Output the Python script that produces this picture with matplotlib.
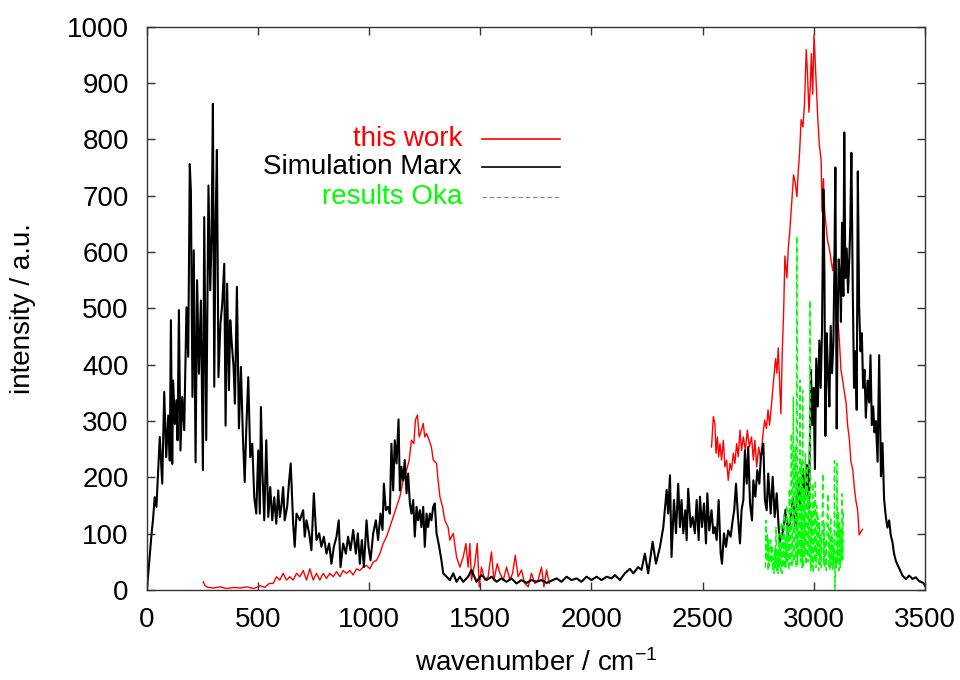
import matplotlib
matplotlib.use('Agg')
import matplotlib.pyplot as plt
import numpy as np

plt.rcParams['font.family'] = ['Liberation Sans', 'DejaVu Sans']
plt.rcParams['mathtext.fontset'] = 'custom'
plt.rcParams['mathtext.rm'] = 'Liberation Sans'
plt.rcParams['mathtext.default'] = 'regular'

# Simulation Marx (black)
marx_x = [0, 21, 28, 35, 43, 58, 69, 78, 87, 96, 103, 108, 114, 118, 126, 133, 138, 144, 151, 159,
          168, 178, 186, 193, 198, 205, 211, 219, 226, 234, 243, 252, 258, 267, 277, 285, 291, 297,
          303, 309, 315, 322, 331, 339, 348, 354, 361, 369, 375, 382, 390, 396, 405, 414, 423, 432,
          440, 447, 456, 465, 474, 483, 492, 501, 508, 513, 520, 528, 537, 546, 555, 564, 573, 582,
          591, 598, 605, 613, 620, 631, 640, 647, 658, 665, 673, 688, 703, 710, 718, 730, 740, 751,
          763, 775, 785, 796, 808, 820, 830, 841, 853, 863, 871, 883, 895, 905, 916, 928, 940, 949,
          958, 967, 976, 988, 997, 1006, 1018, 1030, 1040, 1051, 1060, 1066, 1075, 1085, 1093, 1100,
          1108, 1115, 1123, 1132, 1138, 1145, 1153, 1160, 1168, 1175, 1183, 1190, 1198, 1205, 1213,
          1220, 1228, 1235, 1243, 1250, 1258, 1265, 1273, 1280, 1288, 1295, 1303, 1315, 1325, 1333,
          1348, 1363, 1378, 1393, 1408, 1423, 1445, 1460, 1483, 1505, 1528, 1550, 1573, 1595, 1618,
          1640, 1663, 1685, 1708, 1730, 1753, 1775, 1798, 1820, 1843, 1865, 1888, 1910, 1933, 1955,
          1978, 2000, 2023, 2045, 2068, 2090, 2105, 2128, 2150, 2173, 2188, 2210, 2225, 2240, 2255,
          2275, 2290, 2308, 2323, 2338, 2345, 2353, 2360, 2371, 2380, 2390, 2398, 2405, 2413, 2422,
          2428, 2435, 2446, 2455, 2465, 2473, 2482, 2488, 2497, 2506, 2515, 2521, 2530, 2540, 2548,
          2555, 2563, 2572, 2581, 2587, 2596, 2605, 2615, 2626, 2635, 2642, 2650, 2659, 2668, 2675,
          2683, 2690, 2698, 2705, 2713, 2722, 2728, 2737, 2746, 2755, 2762, 2773, 2780, 2788, 2795,
          2806, 2815, 2824, 2833, 2846, 2861, 2873, 2883, 2894, 2906, 2918, 2930, 2939, 2951, 2960,
          2969, 2978, 2987, 2993, 2999, 3005, 3011, 3018, 3025, 3031, 3037, 3043, 3048, 3052, 3058,
          3064, 3070, 3076, 3082, 3088, 3092, 3097, 3103, 3107, 3112, 3118, 3122, 3127, 3133, 3137,
          3142, 3148, 3154, 3160, 3164, 3169, 3175, 3181, 3187, 3193, 3198, 3204, 3210, 3216, 3222,
          3228, 3234, 3242, 3249, 3255, 3261, 3267, 3273, 3279, 3287, 3294, 3302, 3309, 3316, 3324,
          3331, 3339, 3346, 3354, 3361, 3369, 3384, 3399, 3414, 3429, 3444, 3459, 3474, 3493, 3500]
marx_y = [0, 100, 127, 165, 148, 272, 189, 352, 236, 310, 230, 479, 224, 372, 295, 337, 266, 497, 248, 343,
          284, 502, 414, 756, 707, 343, 603, 227, 550, 384, 514, 213, 662, 266, 718, 532, 627, 863,
          361, 650, 781, 378, 473, 508, 579, 292, 544, 355, 479, 437, 396, 331, 538, 287, 396, 272,
          192, 284, 378, 236, 260, 165, 136, 248, 136, 325, 207, 124, 266, 130, 183, 124, 165, 118,
          177, 130, 148, 183, 124, 148, 195, 225, 118, 77, 136, 124, 142, 95, 124, 101, 71, 172,
          89, 101, 77, 95, 65, 83, 47, 77, 95, 124, 41, 83, 65, 95, 71, 107, 65, 101,
          47, 89, 41, 124, 77, 53, 101, 124, 89, 136, 107, 189, 142, 148, 136, 260,
          177, 266, 225, 303, 177, 219, 195, 231, 172, 207, 154, 136, 160, 95, 148,
          124, 142, 112, 148, 77, 136, 112, 136, 124, 148, 154, 101, 77, 53, 30,
          24, 18, 30, 15, 24, 15, 24, 36, 15, 27, 18, 24, 15, 21, 15,
          21, 12, 18, 13, 18, 15, 18, 13, 17, 21, 15, 24, 18, 21, 15,
          24, 18, 24, 18, 24, 21, 27, 18, 30, 38, 30, 41, 36, 65, 30,
          86, 47, 77, 112, 178, 136, 204, 59, 160, 101, 189, 112, 160, 101, 142,
          89, 180, 112, 130, 101, 160, 89, 166, 112, 154, 83, 172, 106, 142, 101,
          112, 89, 160, 65, 47, 101, 77, 106, 95, 124, 142, 189, 130, 83, 142,
          160, 248, 189, 254, 154, 124, 195, 166, 213, 189, 237, 260, 160, 142, 207,
          136, 201, 130, 172, 85, 104, 143, 98, 124, 163, 111, 196, 143, 215, 163,
          222, 143, 391, 293, 359, 215, 411, 326, 443, 359, 463, 711, 554, 274, 456,
          385, 326, 469, 385, 437, 554, 750, 287, 476, 587, 554, 476, 652, 522, 812,
          554, 606, 528, 593, 646, 776, 541, 359, 424, 320, 743, 502, 424, 456, 359,
          391, 306, 372, 333, 417, 293, 326, 280, 300, 228, 417, 202, 261, 163, 130,
          111, 124, 98, 85, 65, 52, 39, 26, 20, 26, 20, 23, 16, 13, 8]

# this work (red), two measured ranges
work_x1 = [253, 262, 275, 300, 330, 360, 390, 420, 450, 480, 510, 530, 550, 568, 583, 598, 613, 628, 643,
           658, 673, 688, 703, 718, 733, 748, 763, 778, 793, 808, 823, 838, 853, 868, 883, 898, 913,
           928, 943, 958, 973, 988, 1003, 1018, 1033, 1048, 1063, 1078, 1093, 1108, 1123, 1138, 1153,
           1168, 1180, 1190, 1201, 1208, 1217, 1225, 1235, 1243, 1250, 1258, 1270, 1280, 1288, 1303,
           1310, 1318, 1330, 1340, 1355, 1363, 1378, 1393, 1408, 1423, 1435, 1445, 1453, 1460, 1475,
           1486, 1495, 1505, 1520, 1535, 1550, 1561, 1576, 1588, 1603, 1618, 1633, 1645, 1657, 1670,
           1685, 1700, 1715, 1730, 1745, 1760, 1775, 1786, 1798, 1810]
work_y1 = [15, 8, 5, 4, 6, 3, 5, 4, 6, 3, 8, 5, 12, 12, 24, 18, 30, 18, 24,
           18, 30, 24, 35, 18, 38, 18, 30, 18, 30, 21, 30, 24, 33, 24, 35, 30, 35,
           27, 38, 35, 41, 44, 38, 50, 53, 65, 83, 95, 112, 130, 148, 166, 195,
           213, 231, 266, 260, 302, 311, 272, 284, 296, 272, 278, 266, 254, 231, 225,
           195, 166, 148, 124, 112, 89, 101, 59, 41, 59, 83, 41, 83, 18, 47,
           83, 6, 41, 18, 24, 68, 18, 47, 30, 18, 41, 18, 30, 62, 24,
           36, 12, 6, 30, 12, 18, 41, 6, 36, 12]
work_x2 = [2540, 2548, 2555, 2560, 2566, 2572, 2578, 2585, 2593, 2600, 2608, 2615, 2623, 2630, 2638,
           2645, 2653, 2660, 2668, 2675, 2683, 2692, 2701, 2710, 2720, 2728, 2735, 2743, 2752, 2761,
           2770, 2779, 2787, 2794, 2801, 2809, 2816, 2828, 2834, 2840, 2846, 2852, 2858, 2864, 2870,
           2879, 2885, 2891, 2898, 2909, 2916, 2924, 2930, 2936, 2943, 2951, 2958, 2966, 2972, 2978,
           2984, 2989, 2995, 3001, 3007, 3013, 3019, 3025, 3033, 3037, 3043, 3049, 3055, 3062, 3070,
           3077, 3085, 3092, 3100, 3107, 3115, 3122, 3130, 3137, 3145, 3152, 3160, 3167, 3175, 3182,
           3190, 3197, 3204, 3212, 3219]
work_y2 = [254, 308, 296, 243, 272, 237, 260, 231, 266, 219, 231, 195, 225, 213, 243,
           225, 260, 237, 284, 248, 272, 248, 284, 254, 272, 231, 266, 219, 254, 231,
           272, 302, 287, 320, 293, 326, 359, 411, 385, 430, 372, 313, 424, 489, 593,
           554, 606, 632, 672, 737, 724, 698, 743, 776, 835, 822, 861, 959, 913, 848,
           893, 952, 880, 985, 932, 880, 828, 789, 763, 672, 730, 672, 646, 620, 606,
           587, 567, 593, 541, 489, 443, 391, 372, 352, 333, 293, 267, 228, 215, 183,
           157, 143, 98, 104, 108]

# results Oka (green)
oka_x = [2782, 2785, 2788, 2791, 2794, 2797, 2800, 2803, 2806, 2809, 2812, 2815, 2818, 2821, 2824,
         2827, 2830, 2833, 2836, 2839, 2842, 2845, 2848, 2851, 2854, 2857, 2860, 2863, 2866, 2869,
         2872, 2875, 2878, 2881, 2884, 2887, 2890, 2893, 2896, 2899, 2902, 2905, 2908, 2911, 2914,
         2917, 2920, 2924, 2927, 2930, 2934, 2938, 2941, 2944, 2947, 2950, 2953, 2956, 2959, 2962,
         2965, 2968, 2971, 2974, 2977, 2980, 2983, 2986, 2989, 2992, 2995, 2998, 3001, 3004, 3007,
         3010, 3013, 3016, 3019, 3022, 3025, 3028, 3031, 3034, 3038, 3041, 3044, 3047, 3050, 3053,
         3056, 3060, 3064, 3067, 3070, 3073, 3076, 3079, 3082, 3085, 3088, 3091, 3093, 3095, 3098,
         3101, 3104, 3107, 3110, 3113, 3116, 3119, 3122, 3125, 3127, 3130, 3133]
oka_y = [40, 124, 53, 100, 35, 90, 41, 60, 89, 47, 80, 35, 60, 30, 75,
         40, 112, 35, 70, 30, 100, 41, 80, 35, 120, 30, 95, 41, 136, 38,
         90, 41, 150, 50, 112, 35, 180, 45, 136, 278, 41, 200, 343, 50, 170,
         254, 40, 628, 45, 210, 60, 373, 50, 230, 40, 355, 40, 180, 60, 242,
         45, 150, 220, 50, 175, 60, 514, 35, 140, 40, 190, 30, 160, 50, 195,
         40, 150, 60, 130, 35, 120, 45, 100, 40, 140, 207, 45, 120, 40, 90,
         35, 130, 171, 40, 110, 35, 130, 45, 100, 35, 80, 45, 230, 0, 60,
         40, 225, 50, 140, 35, 120, 40, 110, 50, 171, 55, 140]

fig = plt.figure(figsize=(9.6, 6.8), dpi=100)
ax = fig.add_axes([0.153, 0.132, 0.8105, 0.829])

ax.plot(work_x1, work_y1, color='#ff0000', lw=1.0)
ax.plot(work_x2, work_y2, color='#ff0000', lw=1.0)
ax.plot(marx_x, marx_y, color='black', lw=1.5)
ax.plot(oka_x, oka_y, color='#00ff00', lw=1.0, dashes=(4, 2.5))

ax.set_xlim(0, 3500)
ax.set_ylim(0, 1000)
ax.set_xticks(np.arange(0, 3501, 500))
ax.set_yticks(np.arange(0, 1001, 100))
ax.tick_params(direction='in', top=True, right=True, length=6, width=1,
               labelsize=20, colors='#333333', labelcolor='black')
ax.tick_params(axis='y', pad=13)
ax.tick_params(axis='x', pad=12)
for s in ax.spines.values():
    s.set_color('#333333')
    s.set_linewidth(1)

ax.set_xlabel('wavenumber / cm$^{-1}$', fontsize=20, labelpad=12)
ax.set_ylabel('intensity / a.u.', fontsize=20, labelpad=22)

# key, drawn by hand: text right-aligned, sample on the right
key = [('this work', '#ff0000', '-'), ('Simulation Marx', 'black', '-'),
       ('results Oka', '#00ff00', '--')]
rows = [0.801, 0.750, 0.697]
for (lab, col, ls), yy in zip(key, rows):
    ax.text(0.405, yy, lab, color=col, fontsize=20, ha='right', va='center',
            transform=ax.transAxes)
    if ls == '-':
        ax.plot([0.431, 0.531], [yy, yy], color=col, lw=1.2, transform=ax.transAxes)
    else:
        ax.plot([0.431, 0.531], [yy, yy], color='#888888', lw=0.8, dashes=(4, 2.5),
                transform=ax.transAxes)

fig.savefig('out.png', dpi=100)
